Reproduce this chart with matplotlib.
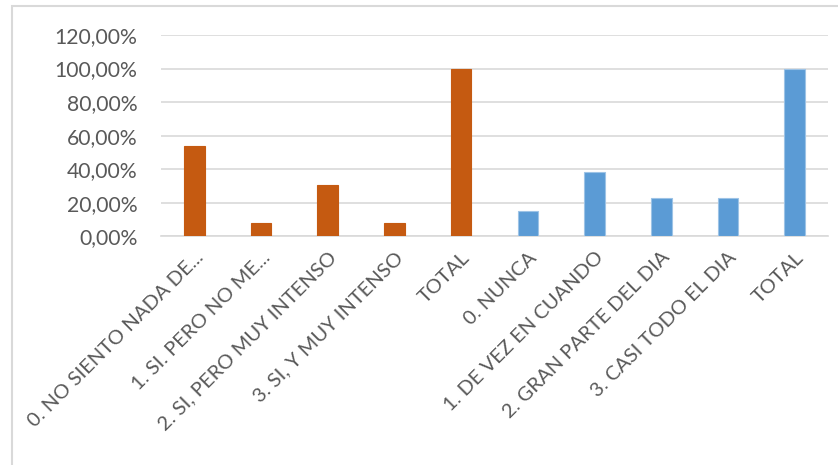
import matplotlib
matplotlib.use("Agg")
import matplotlib.pyplot as plt
from matplotlib.patches import Rectangle
from matplotlib.ticker import FuncFormatter

categories = ["0. NO SIENTO NADA DE...", "1. SI. PERO NO ME...", "2. SI, PERO MUY INTENSO",
              "3. SI, Y MUY INTENSO", "TOTAL", "0. NUNCA", "1. DE VEZ EN CUANDO",
              "2. GRAN PARTE DEL DIA", "3. CASI TODO EL DIA", "TOTAL"]
values = [53.85, 7.69, 30.77, 7.69, 100.0, 15.38, 38.46, 23.08, 23.08, 100.0]
groups = [0, 0, 0, 0, 0, 1, 1, 1, 1, 1]
group_colors = ["#C55A11", "#5B9BD5"]
group_edges = ["#C55A11", "#9DC3E6"]
y_ticks = [0, 20, 40, 60, 80, 100, 120]

plt.rcParams['font.family'] = ['Lato', 'DejaVu Sans']

fig = plt.figure(figsize=(8.38, 4.65), dpi=100)
ax = fig.add_axes([161/838, 1 - 236.3/465, (828-161)/838, (236.3-35)/465])

x = list(range(len(categories)))
cols = [group_colors[g] for g in groups]
edges = [group_edges[g] for g in groups]
ax.bar(x, values, width=0.31, color=cols, edgecolor=edges, linewidth=0.8, zorder=3)

ax.set_xlim(-0.5, len(categories) - 0.5)
ax.set_ylim(0, 120)
ax.set_yticks(y_ticks)
ax.yaxis.set_major_formatter(FuncFormatter(lambda v, p: f"{v:.2f}".replace(".", ",") + "%"))
ax.grid(axis='y', color="#D9D9D9", linewidth=1.2, zorder=0)
for s in ['top', 'right', 'left']:
    ax.spines[s].set_visible(False)
ax.spines['bottom'].set_color("#D9D9D9")
ax.spines['bottom'].set_linewidth(1.2)
ax.tick_params(axis='both', length=0, colors="#595959")
ax.tick_params(axis='y', pad=17, labelsize=15.2)
ax.set_xticks(x)
ax.set_xticklabels(categories, rotation=45, ha='right', rotation_mode='anchor')
ax.tick_params(axis='x', pad=9, labelsize=14.5)

fig.patches.append(Rectangle((12/838, -0.05), 1.2, 1 - 6/465 + 0.05, transform=fig.transFigure,
                             fill=False, edgecolor="#D9D9D9", linewidth=1.5))

fig.savefig("out.png", dpi=100)
